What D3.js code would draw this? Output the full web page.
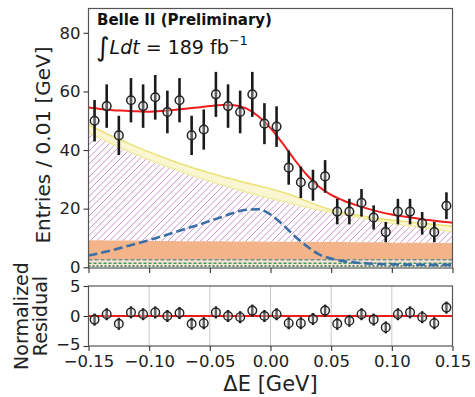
<!DOCTYPE html>
<html><head><meta charset="utf-8">
<script src="https://cdn.jsdelivr.net/npm/d3@7"></script>
<style>
body{margin:0;background:#fff;}
svg{display:block;font-family:"DejaVu Sans",sans-serif;}
</style></head>
<body>
<svg id="c" width="475" height="397"></svg>
<script>
// ---------- data ----------
const binCenters = [-0.145,-0.135,-0.125,-0.115,-0.105,-0.095,-0.085,-0.075,-0.065,-0.055,
  -0.045,-0.035,-0.025,-0.015,-0.005,0.005,0.015,0.025,0.035,0.045,
  0.055,0.065,0.075,0.085,0.095,0.105,0.115,0.125,0.135,0.145];
const entries = [50,55,45,57,55,58,53,57,45,47,59,55,53,59,49,48,34,29,28,31,19,19,22,17,12,19,19,15,12,21];
const residuals = [-0.6,0.3,-1.3,0.6,0.3,0.6,0.0,0.5,-1.3,-1.2,0.6,0.0,-0.2,0.9,0.0,0.3,-1.2,-1.2,-0.5,0.9,-1.3,-0.8,0.3,-0.6,-1.9,0.3,0.6,-0.2,-1.2,1.4];

const curveX = [-0.15,-0.14,-0.13,-0.12,-0.11,-0.10,-0.09,-0.08,-0.07,-0.06,-0.05,-0.04,-0.03,-0.02,-0.01,0.00,
  0.01,0.02,0.03,0.04,0.05,0.06,0.07,0.08,0.09,0.10,0.11,0.12,0.13,0.14,0.15];
const totalFit = [54.5,54.0,53.6,53.4,53.2,53.1,53.3,53.7,54.1,54.5,55.0,55.4,55.3,54.2,51.5,47.5,
  42.3,36.6,31.5,27.5,24.7,22.8,21.3,20.0,18.9,18.0,17.3,16.7,16.1,15.6,15.2];
const signal = [4.0,4.9,5.9,7.0,8.1,9.3,10.5,11.8,13.1,14.4,15.8,17.2,18.6,19.6,19.8,18.0,
  14.6,10.6,7.2,4.4,3.0,2.1,1.6,1.3,1.1,1.0,0.9,0.9,0.8,0.8,0.8];
const bbTop = [48.6,46.6,44.6,42.8,41.0,39.3,37.7,36.2,34.8,33.4,32.2,31.0,29.9,28.8,27.8,26.8,
  25.6,24.2,22.5,20.9,19.6,18.6,17.9,17.2,16.6,16.1,15.6,15.2,14.8,14.4,14.0];
const continuumTop = [46.0,44.0,42.0,40.2,38.4,36.7,35.1,33.6,32.1,30.7,29.4,28.1,26.9,25.7,24.6,23.5,
  22.5,21.5,20.5,19.6,18.8,18.0,17.2,16.4,15.7,15.0,14.4,13.8,13.2,12.7,12.2];
const peakingTop = [9.2,9.2,9.1,9.1,9.1,9.0,9.0,9.0,8.9,8.9,8.9,8.9,8.8,8.8,8.8,8.7,
  8.7,8.7,8.6,8.6,8.6,8.6,8.5,8.5,8.5,8.4,8.4,8.4,8.4,8.3,8.3];
const smallA = [2.6,2.6,2.6,2.6,2.6,2.6,2.6,2.6,2.6,2.6,2.6,2.6,2.6,2.6,2.6,2.6,2.6,2.6,2.6,2.6,2.6,2.6,2.6,2.6,2.6,2.6,2.6,2.6,2.6,2.6,2.6];
const smallB = [1.4,1.4,1.4,1.4,1.4,1.4,1.4,1.4,1.4,1.4,1.4,1.4,1.4,1.4,1.4,1.4,1.4,1.4,1.4,1.4,1.4,1.4,1.4,1.4,1.4,1.4,1.4,1.4,1.4,1.4,1.4];
const smallC = [0.4,0.4,0.4,0.4,0.4,0.4,0.4,0.4,0.4,0.4,0.4,0.4,0.4,0.4,0.4,0.4,0.4,0.4,0.4,0.4,0.4,0.4,0.4,0.4,0.4,0.4,0.4,0.4,0.4,0.4,0.4];

const xTicks = [-0.15,-0.10,-0.05,0.00,0.05,0.10,0.15];
const yTicksMain = [0,20,40,60,80];
const yTicksRes = [-5,0,5];

// ---------- layout ----------
const svg = d3.select("#c");
const L = 88.5, R = 452.5, T = 8.5, B = 268;
const x = d3.scaleLinear().domain([-0.15,0.15]).range([L,R]);
const y = d3.scaleLinear().domain([-0.25,88.3]).range([B,T]);
const yr = d3.scaleLinear().domain([-5,5]).range([346,286]);

const idx = d3.range(curveX.length);
const cv = d3.curveMonotoneX;
const hatchArea = d3.area().curve(cv).x(i=>x(curveX[i])).y0(i=>y(peakingTop[i])).y1(i=>y(continuumTop[i]));

const defs = svg.append("defs");
defs.append("clipPath").attr("id","clipMain").append("rect")
  .attr("x",L).attr("y",T).attr("width",R-L).attr("height",B-T);
defs.append("clipPath").attr("id","clipHatch").append("path").datum(idx).attr("d",hatchArea);

const g = svg.append("g").attr("clip-path","url(#clipMain)");

// low components band
g.append("path").datum(idx)
  .attr("d", d3.area().curve(cv).x(i=>x(curveX[i])).y0(i=>y(0)).y1(i=>y(smallA[i])))
  .attr("fill","#f6e2d6");
// peaking (orange)
g.append("path").datum(idx)
  .attr("d", d3.area().curve(cv).x(i=>x(curveX[i])).y0(i=>y(smallA[i])).y1(i=>y(peakingTop[i])))
  .attr("fill","#f3b48a");
// continuum hatch ("/" lines clipped to the area)
const hg = g.append("g").attr("clip-path","url(#clipHatch)");
const sp = 6.5, H = B - T;
for (let s = L - H; s < R + sp; s += sp) {
  hg.append("line").attr("x1",s).attr("y1",B).attr("x2",s+H).attr("y2",T)
    .attr("stroke","#cf95cb").attr("stroke-width",1);
}
// BB yellow band
g.append("path").datum(idx)
  .attr("d", d3.area().curve(cv).x(i=>x(curveX[i])).y0(i=>y(continuumTop[i])).y1(i=>y(bbTop[i])))
  .attr("fill","#fbf6d2");
[continuumTop,bbTop].forEach((arr,k)=>{
  g.append("path").datum(idx)
   .attr("d", d3.line().curve(cv).x(i=>x(curveX[i])).y(i=>y(arr[i])))
   .attr("fill","none").attr("stroke",k? "#ece27a":"#f2eda8").attr("stroke-width",1.6);
});
// small component lines
g.append("path").datum(idx).attr("d", d3.line().curve(cv).x(i=>x(curveX[i])).y(i=>y(smallA[i])))
  .attr("fill","none").attr("stroke","#6f8f86").attr("stroke-width",1.5).attr("stroke-dasharray","4,2");
g.append("path").datum(idx).attr("d", d3.line().curve(cv).x(i=>x(curveX[i])).y(i=>y(smallB[i])))
  .attr("fill","none").attr("stroke","#3a9a5a").attr("stroke-width",1.5).attr("stroke-dasharray","3,2");
g.append("path").datum(idx).attr("d", d3.line().curve(cv).x(i=>x(curveX[i])).y(i=>y(smallC[i])))
  .attr("fill","none").attr("stroke","#1f6f4f").attr("stroke-width",1.5).attr("stroke-dasharray","2,2");
// signal (blue dashed)
g.append("path").datum(idx).attr("d", d3.line().curve(cv).x(i=>x(curveX[i])).y(i=>y(signal[i])))
  .attr("fill","none").attr("stroke","#3c6ea6").attr("stroke-width",2.6).attr("stroke-dasharray","9,4");
// total fit
g.append("path").datum(idx).attr("d", d3.line().curve(cv).x(i=>x(curveX[i])).y(i=>y(totalFit[i])))
  .attr("fill","none").attr("stroke","#ee1c1c").attr("stroke-width",2);

// data points
const pts = svg.append("g");
binCenters.forEach((c,i)=>{
  const n = entries[i], e = Math.sqrt(n);
  pts.append("line").attr("x1",x(c)).attr("x2",x(c)).attr("y1",y(n-e)).attr("y2",y(n+e))
    .attr("stroke","#1a1a1a").attr("stroke-width",2.6);
  pts.append("circle").attr("cx",x(c)).attr("cy",y(n)).attr("r",4.3)
    .attr("fill","rgba(230,230,230,0.35)").attr("stroke","#222").attr("stroke-width",1.5);
});

// main frame
svg.append("rect").attr("x",L).attr("y",T).attr("width",R-L).attr("height",B-T)
  .attr("fill","none").attr("stroke","#555").attr("stroke-width",1.2);

// axes main
const ax1 = svg.append("g").attr("transform",`translate(${L},0)`)
  .call(d3.axisLeft(y).tickValues(yTicksMain).tickSize(5).tickPadding(3));
const ax2 = svg.append("g").attr("transform",`translate(0,${B})`)
  .call(d3.axisBottom(x).tickValues(xTicks).tickSize(5).tickFormat(""));

// residual panel
const rg = svg.append("g");
xTicks.forEach(t=>{
  rg.append("line").attr("x1",x(t)).attr("x2",x(t)).attr("y1",286).attr("y2",346)
    .attr("stroke","#c8c8c8").attr("stroke-width",1);
});
rg.append("line").attr("x1",L).attr("x2",R).attr("y1",yr(0)).attr("y2",yr(0))
  .attr("stroke","#ee1c1c").attr("stroke-width",2);
binCenters.forEach((c,i)=>{
  const r = residuals[i];
  rg.append("line").attr("x1",x(c)).attr("x2",x(c)).attr("y1",yr(r-1)).attr("y2",yr(r+1))
    .attr("stroke","#1a1a1a").attr("stroke-width",2.4);
  rg.append("circle").attr("cx",x(c)).attr("cy",yr(r)).attr("r",4.3)
    .attr("fill","rgba(230,230,230,0.35)").attr("stroke","#222").attr("stroke-width",1.4);
});
svg.append("rect").attr("x",L).attr("y",286).attr("width",R-L).attr("height",60)
  .attr("fill","none").attr("stroke","#555").attr("stroke-width",1.2);
const ax3 = svg.append("g").attr("transform",`translate(${L},0)`)
  .call(d3.axisLeft(yr).tickValues(yTicksRes).tickSize(5).tickPadding(3));
const ax4 = svg.append("g").attr("transform",`translate(0,346)`)
  .call(d3.axisBottom(x).tickValues(xTicks).tickSize(5).tickPadding(4).tickFormat(d3.format(".2f")));

[ax1,ax2,ax3,ax4].forEach(a=>{
  a.select(".domain").remove();
  a.selectAll(".tick line").attr("stroke","#333").attr("stroke-width",1.1);
  a.selectAll(".tick text").attr("font-size",16.5).attr("fill","#222").attr("font-family","DejaVu Sans");
});
ax3.selectAll(".tick text").filter(d=>d===-5).attr("dy","0.2em");

// labels
svg.append("text").attr("transform","translate(50,145) rotate(-90)").attr("text-anchor","middle")
  .attr("font-size",20).attr("fill","#222").text("Entries / 0.01 [GeV]");
svg.append("text").attr("transform","translate(28,316) rotate(-90)").attr("text-anchor","middle")
  .attr("font-size",19).attr("fill","#222").text("Normalized");
svg.append("text").attr("transform","translate(47,316) rotate(-90)").attr("text-anchor","middle")
  .attr("font-size",19).attr("fill","#222").text("Residual");
svg.append("text").attr("x",270.5).attr("y",391).attr("text-anchor","middle")
  .attr("font-size",21).attr("fill","#222").text("ΔE [GeV]");

svg.append("text").attr("x",97).attr("y",25).attr("font-size",15).attr("font-weight","bold")
  .attr("fill","#111").text("Belle II (Preliminary)");
const lt = svg.append("text").attr("x",96).attr("y",54).attr("fill","#111").attr("font-size",19);
lt.append("tspan").attr("font-size",26).attr("dy",2).text("∫");
lt.append("tspan").attr("font-style","italic").attr("dy",-2).text("Ldt");
lt.append("tspan").text(" = 189 fb");
lt.append("tspan").attr("font-size",13).attr("dy",-9).text("−1");
</script>
</body></html>
